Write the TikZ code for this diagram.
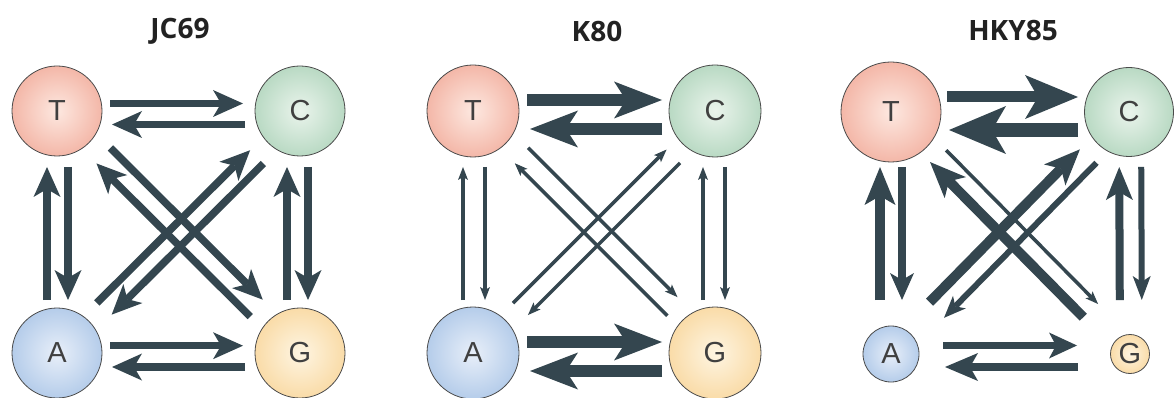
\documentclass[tikz,border=0pt]{standalone}
\usepackage{fontspec}
\setmainfont{Liberation Sans}
\newfontfamily\titlef{Open Sans}
\usetikzlibrary{arrows.meta,calc}

\definecolor{arrowc}{HTML}{34464F}
\definecolor{edgec}{HTML}{4A4A4A}
\definecolor{letterc}{HTML}{404040}
\definecolor{titlec}{HTML}{222222}
\definecolor{Tin}{HTML}{FDE8E0}\definecolor{Tout}{HTML}{EA8670}
\definecolor{Cin}{HTML}{EAF4EC}\definecolor{Cout}{HTML}{88BF9B}
\definecolor{Ain}{HTML}{E8EFF9}\definecolor{Aout}{HTML}{82AADB}
\definecolor{Gin}{HTML}{FEF5E2}\definecolor{Gout}{HTML}{F5C26E}
\pgfdeclareradialshading{shT}{\pgfpoint{0bp}{0bp}}{color(0bp)=(Tin);color(50bp)=(Tout)}
\pgfdeclareradialshading{shC}{\pgfpoint{0bp}{0bp}}{color(0bp)=(Cin);color(50bp)=(Cout)}
\pgfdeclareradialshading{shA}{\pgfpoint{0bp}{0bp}}{color(0bp)=(Ain);color(50bp)=(Aout)}
\pgfdeclareradialshading{shG}{\pgfpoint{0bp}{0bp}}{color(0bp)=(Gin);color(50bp)=(Gout)}

\tikzset{
  base/.style={circle, draw=edgec, line width=0.8pt, inner sep=0pt, text=letterc,
    font=\fontsize{29}{29}\selectfont},
  nT/.style={base, shading=shT},
  nC/.style={base, shading=shC},
  nA/.style={base, shading=shA},
  nG/.style={base, shading=shG},
  ar/.style n args={4}{draw=arrowc, line width=#1,
    -{Stealth[length=#2,width=#3,inset=#4,line width=0pt]}},
  arJ/.style={ar={7.5pt}{30pt}{27pt}{8pt}},
  arK/.style={ar={12pt}{48pt}{37pt}{12pt}},
  ark/.style={ar={3.5pt}{13pt}{10pt}{3pt}},
  ttl/.style={font=\titlef\bfseries\fontsize{28}{28}\selectfont, text=titlec}
}
% from, to, start distance, tip distance, offset to the left, style
\newcommand\myconn[6]{\draw[#6] ($(#1)!#3pt!(#2)!#5pt!90:(#2)$) -- ($(#2)!#4pt!(#1)!#5pt!-90:(#1)$);}

\begin{document}
\begin{tikzpicture}[x=1pt,y=-1pt]
\useasboundingbox (0,0) rectangle (1175,398);
\fill[white] (0,0) rectangle (1175,398);

% ---------- JC69 ----------
\node[ttl] (t1) at (180,31) {JC69};
\node[nT, minimum size=90pt] (T1) at (57,111) {T};
\node[nC, minimum size=90pt] (C1) at (300,111) {C};
\node[nA, minimum size=90pt] (A1) at (57,353) {A};
\node[nG, minimum size=90pt] (G1) at (300,353) {G};
\myconn{T1}{C1}{53}{57}{7.5}{arJ}
\myconn{C1}{T1}{55}{55}{13.5}{arJ}
\myconn{A1}{G1}{53}{57}{7.3}{arJ}
\myconn{G1}{A1}{55}{55}{14}{arJ}
\myconn{T1}{A1}{56}{53}{11}{arJ}
\myconn{A1}{T1}{53}{56}{10}{arJ}
\myconn{C1}{G1}{56}{53}{8}{arJ}
\myconn{G1}{C1}{53}{56}{13}{arJ}
\myconn{T1}{G1}{64}{64}{11.5}{arJ}
\myconn{G1}{T1}{61}{65}{9.3}{arJ}
\myconn{A1}{C1}{63.6}{63}{7.4}{arJ}
\myconn{C1}{A1}{63}{65.8}{11.4}{arJ}

% ---------- K80 ----------
\node[ttl] (t2) at (597,31) {K80};
\node[nT, minimum size=92pt] (T2) at (473,111) {T};
\node[nC, minimum size=92pt] (C2) at (715,111) {C};
\node[nA, minimum size=92pt] (A2) at (473,353) {A};
\node[nG, minimum size=92pt] (G2) at (715,353) {G};
\myconn{T2}{C2}{54}{53}{11}{arK}
\myconn{C2}{T2}{53}{57}{18}{arK}
\myconn{A2}{G2}{54}{53}{11}{arK}
\myconn{G2}{A2}{53}{57}{18}{arK}
\myconn{T2}{A2}{56}{53}{12}{ark}
\myconn{A2}{T2}{53}{56}{10}{ark}
\myconn{C2}{G2}{56}{53}{10}{ark}
\myconn{G2}{C2}{53}{56}{12}{ark}
\myconn{T2}{G2}{65}{66}{13}{ark}
\myconn{G2}{T2}{60}{66.5}{7.4}{ark}
\myconn{A2}{C2}{63.6}{61.5}{7}{ark}
\myconn{C2}{A2}{61.5}{65.7}{12}{ark}

% ---------- HKY85 ----------
\node[ttl] (t3) at (1013,31) {HKY85};
\node[nT, minimum size=100pt] (T3) at (891,112) {T};
\node[nC, minimum size=89pt] (C3) at (1129,112) {C};
\node[nA, minimum size=56pt] (A3) at (891,354) {A};
\node[nG, minimum size=39pt] (G3) at (1130,354) {G};
\myconn{T3}{C3}{56}{51}{15}{ar={11pt}{53pt}{44pt}{13pt}}
\myconn{C3}{T3}{51}{58}{18}{ar={14pt}{57pt}{48pt}{14pt}}
\myconn{A3}{G3}{52}{53}{8.5}{ar={7.5pt}{28pt}{26pt}{7pt}}
\myconn{G3}{A3}{52}{54}{13}{ar={8pt}{33pt}{28pt}{8pt}}
\myconn{T3}{A3}{55}{54}{11}{ar={8.5pt}{27pt}{24pt}{7pt}}
\myconn{A3}{T3}{54}{55}{11}{ar={10pt}{38pt}{31pt}{9pt}}
\myconn{C3}{G3}{55}{54}{12}{ar={6pt}{24pt}{18pt}{6pt}}
\myconn{G3}{C3}{54}{55}{10}{ar={8pt}{33pt}{27pt}{8pt}}
\myconn{T3}{G3}{66}{58}{12.4}{ark}
\myconn{G3}{T3}{59}{63}{7.4}{ar={10pt}{36pt}{30pt}{9pt}}
\myconn{A3}{C3}{64}{61}{8.8}{ar={10pt}{36pt}{30pt}{9pt}}
\myconn{C3}{A3}{59}{63}{12.4}{ar={6pt}{22pt}{18pt}{6pt}}
\end{tikzpicture}
\end{document}
